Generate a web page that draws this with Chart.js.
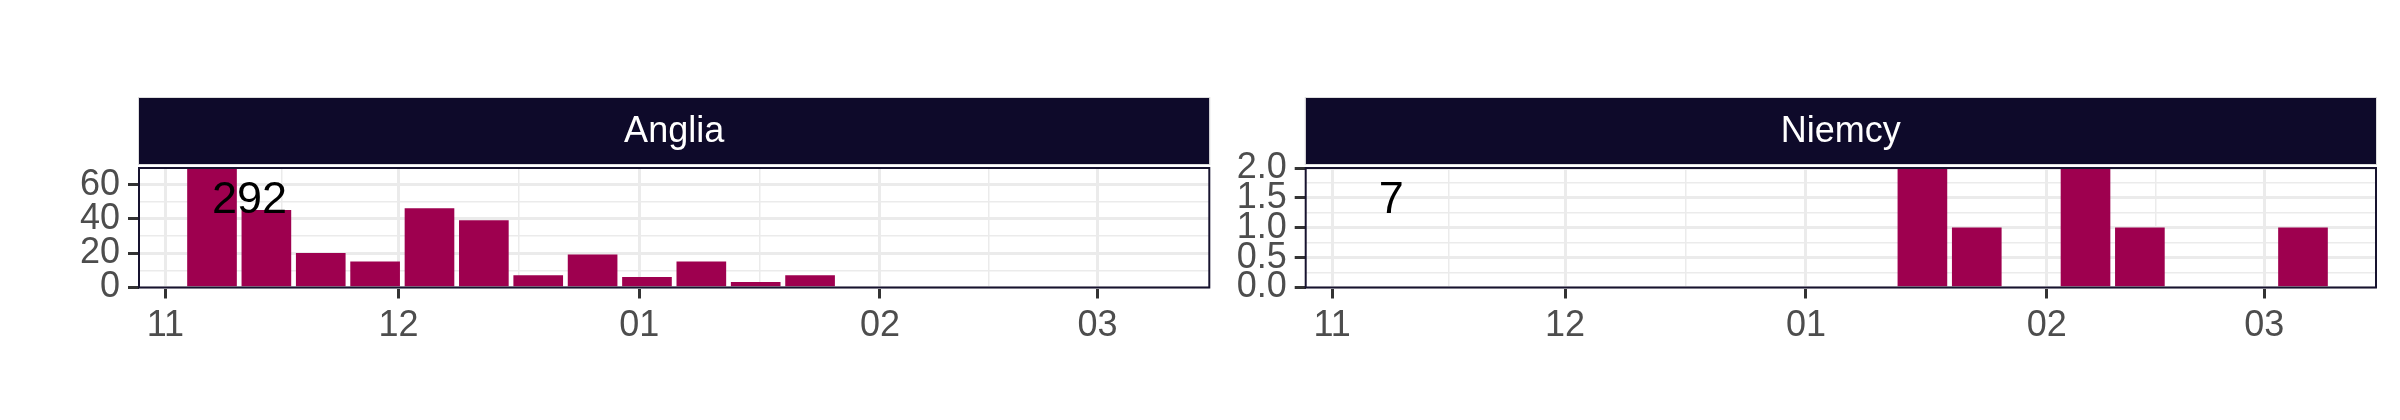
<!DOCTYPE html>
<html lang="pl">
<head>
<meta charset="UTF-8">
<title>Anglia / Niemcy</title>
<style>
  body { margin: 0; background: #fff; }
  #wrap { position: relative; width: 2400px; height: 420px; }
  canvas { position: absolute; top: 0; }
</style>
</head>
<body>
<div id="wrap">
  <canvas id="chartAnglia" width="1215" height="420" style="left:0"></canvas>
  <canvas id="chartNiemcy" width="1185" height="420" style="left:1215px"></canvas>
</div>

<script src="https://cdn.jsdelivr.net/npm/chart.js"></script>
<script>
// weekly counts (week start dates)
const angliaWeeks = ['2022-11-07', '2022-11-14', '2022-11-21', '2022-11-28', '2022-12-05', '2022-12-12',
                     '2022-12-19', '2022-12-26', '2023-01-02', '2023-01-09', '2023-01-16', '2023-01-23', '2023-02-06'];
const angliaCounts = [70, 45, 20, 15, 46, 39, 7, 19, 6, 15, 3, 7, 0];

const niemcyWeeks = ['2023-01-16', '2023-01-23', '2023-02-06', '2023-02-13', '2023-03-06'];
const niemcyCounts = [2, 1, 2, 1, 1];

const monthBreaks = ['2022-11-01', '2022-12-01', '2023-01-01', '2023-02-01', '2023-03-01'];
const monthLabels = ['11', '12', '01', '02', '03'];

const angliaYBreaks = [0, 20, 40, 60];
const niemcyYBreaks = [0, 0.5, 1.0, 1.5, 2.0];

const panelTitles = ['Anglia', 'Niemcy'];
const panelTotals = ['292', '7'];

const FONT = "'Liberation Sans', Arial, Helvetica, sans-serif";
const BAR = '#9E004F';
const STRIP = '#0E0A2A';

const dayOf = s => (Date.parse(s) - Date.parse('2022-11-01')) / 86400000;

// major breaks plus minor ones half way between them
function withMinors(breaks, lo, hi, fmt) {
    const out = [];
    breaks.forEach((b, i) => {
        out.push({ value: b, lab: fmt(i) });
        if (i < breaks.length - 1) out.push({ value: (b + breaks[i + 1]) / 2, lab: '', minor: true });
    });
    return out.filter(t => t.value >= lo && t.value <= hi);
}

const gridStyle = {
    color: '#EBEBEB',
    lineWidth: c => (c.tick && c.tick.minor) ? 1.5 : 3,
    drawTicks: true,
    tickLength: 11,
    tickWidth: 3,
    tickColor: c => (c.tick && c.tick.minor) ? 'rgba(0,0,0,0)' : '#333333'
};

const panelPlugin = {
    id: 'panel',
    afterDatasetsDraw(chart, args, opts) {
        const a = chart.chartArea;
        const ctx = chart.ctx;
        const ys = chart.scales.y;
        ctx.save();
        // total count label
        ctx.fillStyle = '#000';
        ctx.font = '45px ' + FONT;
        ctx.textAlign = 'left';
        ctx.textBaseline = 'middle';
        ctx.fillText(opts.total, chart.scales.x.getPixelForValue(dayOf(opts.labelAt)), ys.getPixelForValue(ys.max * 0.727));
        // panel border
        ctx.strokeStyle = '#17132F';
        ctx.lineWidth = 2;
        ctx.strokeRect(a.left, a.top, a.right - a.left, a.bottom - a.top);
        // facet strip
        const h = 66, top = a.top - 4 - h;
        ctx.fillStyle = STRIP;
        ctx.fillRect(a.left, top, a.right - a.left, h);
        ctx.strokeStyle = '#DDDDDD';
        ctx.lineWidth = 1;
        ctx.strokeRect(a.left - 0.5, top - 0.5, a.right - a.left + 1, h + 1);
        ctx.fillStyle = '#fff';
        ctx.font = '36px ' + FONT;
        ctx.textAlign = 'center';
        ctx.fillText(opts.title, (a.left + a.right) / 2, top + h / 2 + 1);
        ctx.restore();
    }
};

function makeChart(id, weeks, counts, yMax, yBreaks, yFmt, yAxisWidth, rightPad, title, total) {
    const xMin = -3.4, xMax = 134.4;
    const xTicks = withMinors(monthBreaks.map(dayOf), xMin, xMax, i => monthLabels[i]);
    const yTicks = withMinors(yBreaks, 0, yMax, i => yFmt(yBreaks[i]));

    return new Chart(document.getElementById(id), {
        type: 'bar',
        data: {
            datasets: [{
                data: weeks.map((w, i) => ({ x: dayOf(w), y: counts[i] })),
                backgroundColor: BAR,
                borderWidth: 0,
                barThickness: 49
            }]
        },
        options: {
            responsive: false,
            animation: false,
            events: [],
            layout: { padding: { top: 168, right: rightPad, left: 0, bottom: 0 } },
            plugins: {
                legend: { display: false },
                tooltip: { enabled: false },
                panel: { title: title, total: total, labelAt: weeks[0] < '2022-11-08' ? weeks[0] : angliaWeeks[0] }
            },
            scales: {
                x: {
                    type: 'linear',
                    min: xMin,
                    max: xMax,
                    offset: false,
                    afterBuildTicks: s => { s.ticks = xTicks.map(t => Object.assign({}, t)); },
                    afterFit: s => { s.height = 132.5; },
                    grid: Object.assign({ offset: false }, gridStyle),
                    border: { display: false },
                    ticks: {
                        autoSkip: false,
                        maxRotation: 0,
                        padding: 6,
                        color: '#4D4D4D',
                        font: { family: FONT, size: 36 },
                        callback: (v, i, ticks) => ticks[i].lab
                    }
                },
                y: {
                    min: 0,
                    max: yMax,
                    afterBuildTicks: s => { s.ticks = yTicks.map(t => Object.assign({}, t)); },
                    afterFit: s => { s.width = yAxisWidth; },
                    grid: gridStyle,
                    border: { display: false },
                    ticks: {
                        autoSkip: false,
                        padding: 8,
                        color: '#4D4D4D',
                        font: { family: FONT, size: 36 },
                        callback: (v, i, ticks) => ticks[i].lab
                    }
                }
            }
        },
        plugins: [panelPlugin]
    });
}

makeChart('chartAnglia', angliaWeeks, angliaCounts, 69.7, angliaYBreaks, v => String(v),
          139, 5.7, panelTitles[0], panelTotals[0]);
makeChart('chartNiemcy', niemcyWeeks, niemcyCounts, 2.0, niemcyYBreaks, v => v.toFixed(1),
          90.7, 24, panelTitles[1], panelTotals[1]);
</script>
</body>
</html>
